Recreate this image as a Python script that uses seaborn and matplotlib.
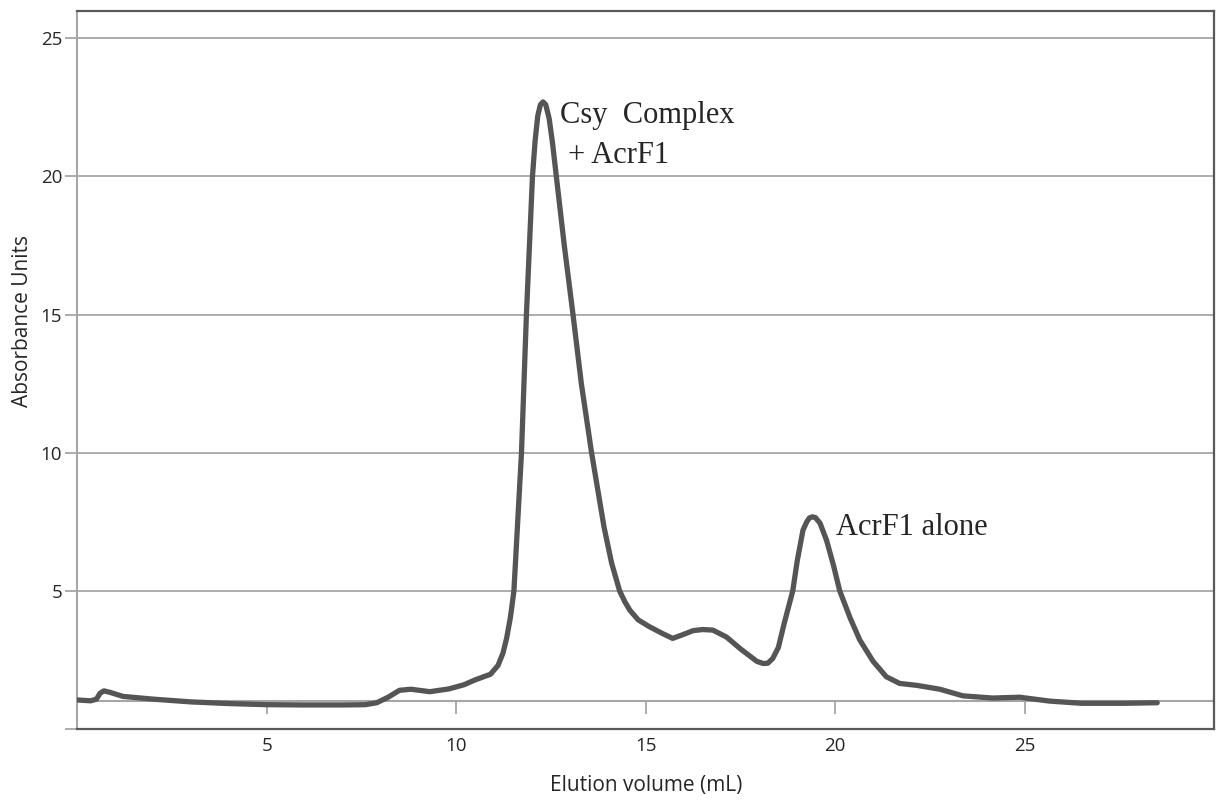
import numpy as np
import pandas as pd
import seaborn as sns
import matplotlib.pyplot as plt

# chromatogram trace
elution_ml = [0.0, 0.35, 0.5, 0.6, 0.7, 0.85, 1.2, 2.0, 3.0, 4.0, 5.0, 6.0, 7.0, 7.6, 7.9,
              8.2, 8.5, 8.8, 9.3, 9.8, 10.2, 10.5, 10.9, 11.1, 11.23, 11.33, 11.43, 11.52,
              11.62, 11.72, 11.85, 12.01, 12.08, 12.15, 12.22, 12.29, 12.36, 12.45, 12.54,
              12.64, 12.85, 13.08, 13.3, 13.57, 13.9, 14.1, 14.31, 14.45, 14.58, 14.8, 15.1,
              15.45, 15.71, 15.95, 16.25, 16.5, 16.77, 17.13, 17.5, 17.93, 18.1, 18.22,
              18.35, 18.5, 18.65, 18.88, 19.0, 19.15, 19.25, 19.32, 19.4, 19.48, 19.6,
              19.77, 19.95, 20.12, 20.4, 20.65, 21.0, 21.35, 21.7, 22.15, 22.76, 23.37,
              24.15, 24.87, 25.66, 26.5, 27.6, 28.5]
absorbance = [1.05, 1.02, 1.08, 1.3, 1.38, 1.33, 1.18, 1.08, 0.98, 0.92, 0.88, 0.87, 0.87, 0.88, 0.95,
              1.15, 1.4, 1.44, 1.35, 1.45, 1.6, 1.78, 1.98, 2.3, 2.74, 3.3, 4.06, 5.0,
              7.5, 10.0, 15.0, 20.0, 21.3, 22.2, 22.6, 22.7, 22.6, 22.1, 21.2,
              20.0, 17.5, 15.0, 12.5, 10.0, 7.3, 6.0, 5.0, 4.6, 4.3, 3.95, 3.7,
              3.45, 3.28, 3.4, 3.56, 3.6, 3.58, 3.33, 2.9, 2.45, 2.37, 2.38,
              2.55, 2.95, 3.8, 5.0, 6.1, 7.2, 7.5, 7.64, 7.68, 7.65, 7.45,
              6.84, 5.95, 5.0, 4.0, 3.22, 2.45, 1.89, 1.65, 1.58, 1.44, 1.2,
              1.12, 1.15, 1.01, 0.93, 0.93, 0.95]

x_ticks = [5, 10, 15, 20, 25]
y_ticks = [0, 5, 10, 15, 20, 25]
y_ticklabels = ["", "5", "10", "15", "20", "25"]

df = pd.DataFrame({"Elution volume (mL)": elution_ml, "Absorbance Units": absorbance})

sns.set_style("white")
plt.rcParams["font.family"] = ["Open Sans", "DejaVu Sans"]

fig = plt.figure(figsize=(12.16, 8.01), dpi=100)
ax = fig.add_axes([0.0637, 0.0899, 0.9347, 0.8967])

grid_c = "#a6a6a6"
frame_c = "#595959"

for yv in y_ticks[1:]:
    ax.axhline(yv, color=grid_c, lw=1.3, zorder=0)

sns.lineplot(data=df, x="Elution volume (mL)", y="Absorbance Units",
             color="#555555", linewidth=3.8, estimator=None, ax=ax, zorder=3,
             solid_joinstyle="round", solid_capstyle="round")

ax.set_xlim(0, 30)
ax.set_ylim(0, 26)

# frame
for side in ["top", "right", "bottom"]:
    ax.spines[side].set_color(frame_c)
    ax.spines[side].set_linewidth(1.6)
ax.spines["left"].set_color(grid_c)
ax.spines["left"].set_linewidth(1.5)

ax.set_yticks(y_ticks)
ax.set_yticklabels(y_ticklabels)
ax.tick_params(axis="y", direction="out", length=9, width=1.3, color=grid_c,
               labelsize=13.5, pad=2, left=True)

# x labels sit under the frame, the axis line with tick marks crosses at y=1
ax.set_xticks(x_ticks)
ax.tick_params(axis="x", length=0, labelsize=13.5, pad=6)
sec = ax.secondary_xaxis(1 / 26)
sec.set_xticks(x_ticks)
sec.tick_params(axis="x", direction="out", length=9, width=1.3, color=grid_c,
                labelbottom=False, labeltop=False)
sec.spines["bottom"].set_color(grid_c)
sec.spines["bottom"].set_linewidth(1.5)

ax.set_xlabel("Elution volume (mL)", fontsize=15, labelpad=14)
ax.set_ylabel("Absorbance Units", fontsize=15)
ax.yaxis.set_label_coords(-0.039, 0.568)

ax.text(12.73, 21.92, "Csy  Complex", family="Liberation Serif", fontsize=22,
        ha="left", va="baseline")
ax.text(12.94, 20.5, "+ AcrF1", family="Liberation Serif", fontsize=22,
        ha="left", va="baseline")
ax.text(20.03, 7.02, "AcrF1 alone", family="Liberation Serif", fontsize=22,
        ha="left", va="baseline")

fig.savefig("out.png", dpi=100)
